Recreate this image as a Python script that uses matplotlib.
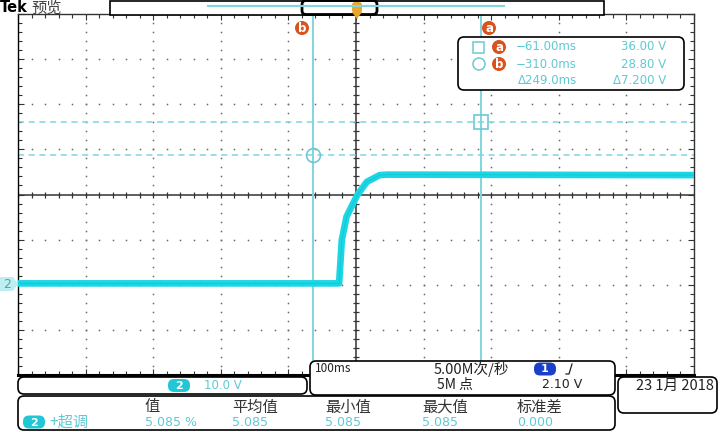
import numpy as np
import matplotlib.pyplot as plt
from matplotlib.patches import FancyBboxPatch, Rectangle, Circle, Polygon

plt.rcParams['font.family'] = ['Noto Sans CJK SC', 'DejaVu Sans']

# screen settings (100 ms/div, 10 V/div, 10 x 8 divisions)
t_center = -246.0
t_div = 100.0
v_center = 20.0
v_div = 10.0

# channel 2 trace (ms, V)
trace_t = [-746, -271, -267, -260, -244, -230, -211, -200, 254]
trace_v = [0.3, 0.3, 9.9, 15.1, 19.9, 22.8, 24.3, 24.4, 24.3]

# cursors
cur_t = {'a': -61.0, 'b': -310.0}
cur_v = {'a': 36.0, 'b': 28.8}
readout_rows = [('−61.00ms', '36.00 V'), ('−310.0ms', '28.80 V'), ('Δ249.0ms', 'Δ7.200 V')]

# measurement table
meas_headers = ['值', '平均值', '最小值', '最大值', '标准差']
meas_values = ['5.085 %', '5.085', '5.085', '5.085', '0.000']
meas_name = '+超调'

cyan = '#1bd6e4'
cur_col = '#7fd6df'
txt_cyan = '#5fc9d4'
orange = '#d9531e'

fig = plt.figure(figsize=(7.2, 4.32), dpi=100)
fig.patch.set_facecolor('white')
ax = fig.add_axes([18 / 720, 57 / 432, 676 / 720, 361 / 432])
x0, x1 = t_center - 5 * t_div, t_center + 5 * t_div
y0, y1 = v_center - 4 * v_div, v_center + 4 * v_div
ax.set_xlim(x0, x1)
ax.set_ylim(y0, y1)

# graticule: dotted division lines
for k in range(1, 10):
    if k == 5:
        continue
    xs = np.full(41, x0 + k * t_div)
    ys = np.linspace(y0, y1, 41)
    ax.plot(xs, ys, ls='none', marker='s', ms=1.1, mew=0, color='#6a6a6a', zorder=1)
for k in range(1, 8):
    if k == 4:
        continue
    xs = np.linspace(x0, x1, 51)
    ys = np.full(51, y0 + k * v_div)
    ax.plot(xs, ys, ls='none', marker='s', ms=1.1, mew=0, color='#6a6a6a', zorder=1)

# centre cross with minor ticks
ax.axhline(v_center, color='#333333', lw=1.1, zorder=1)
ax.axvline(t_center, color='#333333', lw=1.1, zorder=1)
ax.plot(np.linspace(x0, x1, 51), np.full(51, v_center), ls='none', marker='|', ms=5, mew=0.9,
        color='#333333', zorder=1)
ax.plot(np.full(41, t_center), np.linspace(y0, y1, 41), ls='none', marker='_', ms=5, mew=0.9,
        color='#333333', zorder=1)

# frame ticks
ax.set_xticks(np.arange(x0, x1 + 1, t_div))
ax.set_yticks(np.arange(y0, y1 + 1, v_div))
ax.set_xticks(np.arange(x0, x1 + 1, t_div / 5), minor=True)
ax.set_yticks(np.arange(y0, y1 + 1, v_div / 5), minor=True)
ax.tick_params(which='both', direction='in', top=True, right=True, labelbottom=False,
               labelleft=False, color='#333333', width=0.8)
ax.tick_params(which='major', length=4)
ax.tick_params(which='minor', length=3)
for s in ax.spines.values():
    s.set_color('#333333')
    s.set_linewidth(1.0)
ax.spines['bottom'].set_color('black')
ax.spines['bottom'].set_linewidth(2.2)
ax.spines['left'].set_color('black')

# cursors
for name in ('a', 'b'):
    ax.axvline(cur_t[name], color=cur_col, lw=1.4, zorder=2)
    ax.axhline(cur_v[name], color=cur_col, lw=1.1, ls=(0, (4, 3)), zorder=2)
ax.plot(cur_t['a'], cur_v['a'], marker='s', ms=10, mfc='none', mec='#6cc9d3', mew=1.2, zorder=3)
ax.plot(cur_t['b'], cur_v['b'], marker='o', ms=10, mfc='none', mec='#6cc9d3', mew=1.2, zorder=3)

# trace
ax.plot(trace_t, trace_v, color=cyan, lw=4.8, solid_joinstyle='round', zorder=4)
ax.plot(trace_t, trace_v, color='#12b9c6', lw=0.6, zorder=4, alpha=0.6)

# overlay in pixel coordinates
ov = fig.add_axes([0, 0, 1, 1], zorder=5)
ov.set_xlim(0, 720)
ov.set_ylim(432, 0)
ov.axis('off')
ov.patch.set_alpha(0)


def rbox(x, y, w, h, lw=1.2, fc='white', ec='black', r=6):
    ov.add_patch(FancyBboxPatch((x, y), w, h, boxstyle=f'round,pad=0,rounding_size={r}',
                                fc=fc, ec=ec, lw=lw))


def badge(x, y, s, col=orange, r=7):
    ov.add_patch(Circle((x, y), r, fc=col, ec='none'))
    ov.text(x, y + 0.5, s, color='white', fontsize=8.5, fontweight='bold', ha='center', va='center',
            family='DejaVu Sans')


def pill(x, y, s, col, w=22, h=13):
    rbox(x - w / 2, y - h / 2, w, h, lw=0, fc=col, ec=col, r=6)
    ov.text(x, y + 0.5, s, color='white', fontsize=8, fontweight='bold', ha='center', va='center',
            family='DejaVu Sans')


# header
ov.text(0, 8, 'Tek', fontsize=10.5, fontweight='bold', color='black', va='center', family='DejaVu Sans')
ov.text(31, 8, '预览', fontsize=11, color='#444444', va='center')
ov.add_patch(Rectangle((110, 0.5), 494, 14, fc='white', ec='black', lw=1.2))
ov.plot([208, 504], [6, 6], color=cur_col, lw=1.5)
rbox(302, 0.5, 75, 14, lw=2, fc='none', r=4)
ov.add_patch(FancyBboxPatch((352, 2), 10, 11, boxstyle='round,pad=0,rounding_size=3',
                            fc='#e8a530', ec='none'))
ov.add_patch(Polygon([[352, 12], [362, 12], [357, 19]], fc='#e8a530', ec='none'))

# cursor labels
badge(302, 28, 'b')
badge(489, 28, 'a')

# channel marker
ov.add_patch(Polygon([[0, 277], [13, 277], [18, 284], [13, 291], [0, 291]], fc='#bdeef2', ec='none'))
ov.text(7, 284.5, '2', fontsize=9, color='#5f9fa8', ha='center', va='center', family='DejaVu Sans')

# cursor readout
rbox(458, 37, 226, 53)
ov.add_patch(Rectangle((473, 42), 11, 11, fc='none', ec='#6cc9d3', lw=1.1))
ov.add_patch(Circle((479, 64), 6, fc='none', ec='#6cc9d3', lw=1.1))
badge(499, 47, 'a')
badge(499, 64, 'b')
for i, (tt, vv) in enumerate(readout_rows):
    yy = 47 + i * 17
    ov.text(577, yy, tt, fontsize=8.5, color=txt_cyan, ha='right', va='center', family='DejaVu Sans')
    ov.text(666, yy, vv, fontsize=8.5, color=txt_cyan, ha='right', va='center', family='DejaVu Sans')

# bottom status boxes
rbox(18, 377, 289, 17)
pill(179, 385.5, '2', '#22c7d6')
ov.text(204, 385.5, '10.0 V', fontsize=8.5, color=txt_cyan, va='center', family='DejaVu Sans')

rbox(310, 361, 305, 34)
ov.text(315, 369, '100ms', fontsize=8.5, color='#222222', va='center')
ov.text(434, 369, '5.00M次/秒', fontsize=10.5, color='#222222', va='center')
ov.text(437, 385, '5M 点', fontsize=10, color='#222222', va='center')
pill(545, 369, '1', '#1a3fc8')
ov.plot([566, 569, 572], [374, 374, 364], color='#222222', lw=0.9)
ov.text(582, 385, '2.10 V', fontsize=9, color='#222222', ha='right', va='center', family='DejaVu Sans')

rbox(618, 377, 99, 36)
ov.text(714, 386, '23 1月 2018', fontsize=10.5, color='#222222', ha='right', va='center')

# measurement table
rbox(18, 396, 597, 34)
col_x = [145, 232, 325, 422, 517]
for xx, hh, vv in zip(col_x, meas_headers, meas_values):
    ov.text(xx, 407, hh, fontsize=11, color='#333333', va='center')
    ov.text(xx, 422, vv, fontsize=9, color=txt_cyan, va='center', family='DejaVu Sans')
pill(34, 422, '2', '#22c7d6')
ov.text(49, 422, meas_name, fontsize=11, color=txt_cyan, va='center')

fig.savefig('out.png', dpi=100, facecolor='white')
